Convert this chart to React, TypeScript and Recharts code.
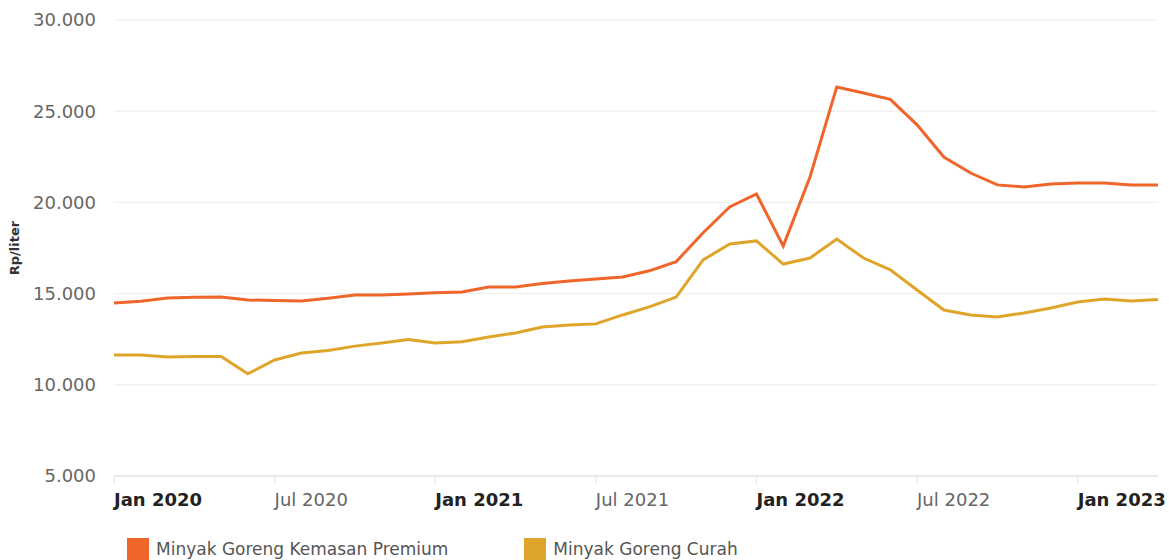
import { LineChart, Line, XAxis, YAxis, CartesianGrid } from 'recharts';

// monthly, Jan 2020 .. Apr 2023
const months = [
  'Jan 2020', 'Feb 2020', 'Mar 2020', 'Apr 2020', 'May 2020', 'Jun 2020', 'Jul 2020', 'Aug 2020', 'Sep 2020', 'Oct 2020', 'Nov 2020', 'Dec 2020',
  'Jan 2021', 'Feb 2021', 'Mar 2021', 'Apr 2021', 'May 2021', 'Jun 2021', 'Jul 2021', 'Aug 2021', 'Sep 2021', 'Oct 2021', 'Nov 2021', 'Dec 2021',
  'Jan 2022', 'Feb 2022', 'Mar 2022', 'Apr 2022', 'May 2022', 'Jun 2022', 'Jul 2022', 'Aug 2022', 'Sep 2022', 'Oct 2022', 'Nov 2022', 'Dec 2022',
  'Jan 2023', 'Feb 2023', 'Mar 2023', 'Apr 2023',
];

const premium = [
  14490, 14580, 14760, 14800, 14810, 14650, 14620, 14600, 14750, 14920, 14920, 14980,
  15050, 15090, 15360, 15360, 15550, 15690, 15800, 15910, 16250, 16750, 18320, 19750,
  20460, 17610, 21390, 26330, 26000, 25650, 24250, 22490, 21610, 20960, 20850, 21010,
  21060, 21070, 20960, 20960,
];

const curah = [
  11640, 11640, 11530, 11550, 11550, 10600, 11360, 11740, 11880, 12120, 12290, 12480,
  12290, 12360, 12620, 12840, 13170, 13280, 13340, 13830, 14270, 14810, 16840, 17720,
  17890, 16620, 16950, 17990, 16950, 16300, 15200, 14100, 13830, 13720, 13940, 14210,
  14540, 14700, 14600, 14680,
];

const xTickIdx = [0, 6, 12, 18, 24, 30, 36];
const yTicks = [5000, 10000, 15000, 20000, 25000, 30000];

const series = [
  { key: 'premium', name: 'Minyak Goreng Kemasan Premium', color: '#f0652a' },
  { key: 'curah', name: 'Minyak Goreng Curah', color: '#dea52a' },
];

const data = months.map((m, i) => ({ i, month: m, premium: premium[i], curah: curah[i] }));

const FONT = '"DejaVu Sans", Verdana, sans-serif';

function MonthTick(props: any) {
  const { x, y, payload } = props;
  const label = months[payload.value];
  const isJan = label.startsWith('Jan');
  return (
    <text
      x={x}
      y={y + 20}
      textAnchor="start"
      fontFamily={FONT}
      fontSize={18}
      fontWeight={isJan ? 'bold' : 'normal'}
      fill={isJan ? '#222' : '#666'}
    >
      {label}
    </text>
  );
}

const fmt = (v: number) => v.toLocaleString('de-DE');

export default function App() {
  return (
    <div style={{ position: 'absolute', left: 0, top: 0, width: 1169, height: 560, background: '#fff', fontFamily: FONT }}>
      <LineChart width={1169} height={560} data={data} margin={{ top: 20, right: 11, left: 0, bottom: 0 }}>
        <CartesianGrid vertical={false} stroke="#ececec" />
        <XAxis
          dataKey="i"
          type="number"
          domain={[0, 39]}
          ticks={xTickIdx}
          tick={<MonthTick />}
          height={84}
          axisLine={{ stroke: '#d8dde6' }}
          tickLine={{ stroke: '#e3e3e3' }}
          tickSize={8}
          interval={0}
        />
        <YAxis
          domain={[5000, 30000]}
          ticks={yTicks}
          width={114}
          axisLine={false}
          tickLine={false}
          tickFormatter={fmt}
          tick={{ fill: '#666', fontSize: 18, fontFamily: FONT }}
          tickMargin={12}
          label={{
            value: 'Rp/liter',
            angle: -90,
            position: 'insideLeft',
            offset: 14,
            style: { fontSize: 13, fontWeight: 'bold', fill: '#333', fontFamily: FONT, textAnchor: 'middle' },
          }}
        />
        {series.map(s => (
          <Line
            key={s.key}
            type="linear"
            dataKey={s.key}
            name={s.name}
            stroke={s.color}
            strokeWidth={3}
            dot={false}
            isAnimationActive={false}
          />
        ))}
      </LineChart>
      <div style={{ position: 'absolute', left: 127, top: 538, display: 'flex', alignItems: 'center' }}>
        {series.map(s => (
          <div key={s.key} style={{ display: 'flex', alignItems: 'center', marginRight: 76 }}>
            <span style={{ display: 'inline-block', width: 22, height: 22, background: s.color, marginRight: 7 }} />
            <span style={{ fontSize: 17, color: '#555' }}>{s.name}</span>
          </div>
        ))}
      </div>
    </div>
  );
}
